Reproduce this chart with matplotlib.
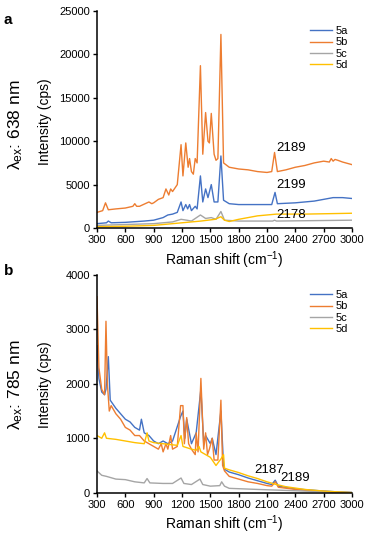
import numpy as np
import matplotlib
matplotlib.use('Agg')
import matplotlib.pyplot as plt

plt.rcParams['font.family'] = ['Liberation Sans', 'DejaVu Sans']
plt.rcParams['mathtext.fontset'] = 'custom'
plt.rcParams['mathtext.rm'] = 'Liberation Sans'
plt.rcParams['mathtext.it'] = 'Liberation Sans'

# ---- panel a (638 nm) ----
a5b_x = [300, 360, 390, 420, 500, 600, 680, 700, 720, 750, 850, 880, 900, 950, 1000, 1030, 1060, 1080, 1100, 1150,
         1190, 1210, 1240, 1265, 1280, 1300, 1320, 1340, 1360, 1395, 1420, 1450, 1475, 1490, 1510, 1540, 1560, 1580,
         1612, 1640, 1700, 1800, 1900, 2000, 2100, 2150, 2180, 2210, 2300, 2400, 2500, 2600, 2700, 2760, 2780, 2800,
         2820, 2850, 2900, 3000]
a5b_y = [1800, 2000, 2900, 2100, 2200, 2300, 2500, 2800, 2500, 2500, 3000, 2800, 2900, 3300, 3500, 4500, 3800, 4500, 4200, 5000,
         9600, 6000, 9800, 7000, 8000, 6500, 6200, 8000, 7500, 18700, 8500, 13300, 10000, 9800, 13200, 8500, 7800, 8000,
         22300, 7500, 7000, 6800, 6700, 6500, 6400, 6500, 8700, 6500, 6700, 7000, 7200, 7500, 7700, 7600, 8000, 7700,
         7900, 7800, 7600, 7300]

a5a_x = [300, 400, 420, 450, 600, 800, 900, 1000, 1050, 1100, 1150, 1190, 1210, 1240, 1260, 1280, 1300, 1340, 1360,
         1395, 1420, 1450, 1475, 1510, 1540, 1580, 1612, 1640, 1700, 1800, 2000, 2150, 2185, 2210, 2400, 2600, 2700,
         2800, 2900, 3000]
a5a_y = [500, 600, 800, 600, 650, 800, 900, 1200, 1500, 1600, 1800, 3000, 2000, 2700, 2200, 2700, 2000, 2500, 2200,
         6000, 3000, 4500, 3500, 5000, 3000, 3000, 8300, 3200, 2800, 2700, 2700, 2700, 4100, 2800, 2900, 3100, 3300,
         3500, 3500, 3400]

a5c_x = [300, 600, 900, 1100, 1190, 1250, 1300, 1395, 1450, 1510, 1560, 1612, 1650, 1800, 2000, 2160, 2180, 2200, 3000]
a5c_y = [300, 400, 500, 700, 1000, 900, 800, 1500, 1100, 1200, 1000, 1900, 900, 800, 800, 800, 900, 800, 900]

a5d_x = [300, 600, 900, 1200, 1400, 1550, 1612, 1650, 1700, 1800, 2000, 2200, 2500, 3000]
a5d_y = [150, 200, 300, 600, 800, 1000, 1300, 900, 750, 1000, 1400, 1600, 1600, 1700]

# ---- panel b (785 nm) ----
b5b_x = [300, 320, 350, 380, 395, 410, 430, 450, 500, 550, 600, 650, 700, 750, 800, 850, 900, 950, 980, 1000, 1030,
         1050, 1080, 1100, 1150, 1185, 1210, 1225, 1250, 1270, 1300, 1340, 1350, 1370, 1400, 1430, 1450, 1470, 1490,
         1520, 1540, 1580, 1612, 1630, 1650, 1700, 1800, 1900, 2000, 2100, 2150, 2189, 2220, 2400, 2600, 3000]
b5b_y = [3600, 2300, 1900, 1800, 3150, 2000, 1500, 1600, 1450, 1350, 1200, 1150, 1050, 1050, 950, 900, 850, 800, 900, 750, 900,
         800, 1050, 800, 850, 1600, 1600, 900, 1380, 900, 800, 700, 1100, 750, 2100, 800, 1100, 700, 800,
         1000, 600, 600, 1700, 500, 400, 300, 250, 200, 170, 130, 120, 200, 100, 60, 30, 0]

b5a_x = [300, 320, 350, 380, 395, 420, 440, 500, 600, 650, 700, 750, 770, 800, 850, 900, 950, 1000, 1050, 1100, 1185,
         1210, 1230, 1250, 1300, 1350, 1400, 1430, 1450, 1500, 1520, 1560, 1612, 1640, 1650, 1700, 1800, 1900, 2000,
         2100, 2150, 2187, 2220, 2400, 2700, 3000]
b5a_y = [2700, 2100, 1850, 1800, 1900, 2500, 1700, 1550, 1350, 1300, 1200, 1150, 1350, 1100, 1050, 950, 900, 950, 900, 950, 1400,
         1500, 1000, 1350, 900, 1100, 1900, 900, 1050, 900, 1000, 700, 1500, 500, 430, 380, 330, 270, 220,
         170, 150, 230, 120, 70, 30, 0]

b5c_x = [300, 350, 400, 500, 600, 700, 800, 830, 860, 1000, 1100, 1190, 1220, 1300, 1390, 1420, 1500, 1600, 1620, 1650,
         1700, 2000, 2500, 3000]
b5c_y = [400, 320, 300, 250, 240, 200, 180, 260, 180, 170, 170, 270, 170, 150, 250, 150, 120, 130, 200, 120,
         80, 60, 30, 10]

b5d_x = [300, 350, 380, 400, 500, 600, 700, 800, 830, 850, 900, 1000, 1100, 1150, 1190, 1210, 1300, 1350, 1380, 1400,
         1500, 1560, 1612, 1640, 1650, 1700, 1800, 1900, 2000, 2100, 2200, 2300, 2500, 2700, 3000]
b5d_y = [1050, 1000, 1100, 1000, 980, 950, 920, 900, 1100, 950, 920, 900, 880, 870, 1050, 850, 800, 780, 850, 750,
         650, 500, 620, 700, 450, 420, 370, 310, 260, 200, 150, 110, 60, 30, 0]

series_names = ['5a', '5b', '5c', '5d']
colors = ['#4472C4', '#ED7D31', '#A5A5A5', '#FFC000']
xticks = list(range(300, 3001, 300))

W, H = 369, 536
fig = plt.figure(figsize=(W / 100, H / 100), dpi=100)


def setup(ax, ymax, ystep):
    ax.set_xlim(300, 3000)
    ax.set_ylim(0, ymax)
    ax.set_xticks(xticks)
    ax.set_yticks(np.arange(0, ymax + 1, ystep))
    ax.tick_params(labelsize=8, length=3, width=1, pad=2)
    for s in ['top', 'right']:
        ax.spines[s].set_visible(False)
    for s in ['left', 'bottom']:
        ax.spines[s].set_linewidth(1.1)
    ax.set_xlabel('Raman shift (cm$^{-1}$)', fontsize=10, labelpad=3)
    ax.legend(loc='upper right', bbox_to_anchor=(1.0, 0.95), frameon=False, fontsize=8,
              handlelength=2.0, handletextpad=0.3, labelspacing=0.1, borderaxespad=0)


# panel a
axa = fig.add_axes([97 / W, (H - 228) / H, 255 / W, 217 / H])
for name, c, xs, ys in zip(series_names, colors,
                           [a5a_x, a5b_x, a5c_x, a5d_x], [a5a_y, a5b_y, a5c_y, a5d_y]):
    axa.plot(xs, ys, color=c, lw=1.0, label=name)
setup(axa, 25000, 5000)
axa.text(2195, 9200, '2189', fontsize=9.5, va='center')
axa.text(2195, 4950, '2199', fontsize=9.5, va='center')
axa.text(2195, 1500, '2178', fontsize=9.5, va='center')

# panel b
axb = fig.add_axes([97 / W, (H - 492.7) / H, 255 / W, 217.7 / H])
for name, c, xs, ys in zip(series_names, colors,
                           [b5a_x, b5b_x, b5c_x, b5d_x], [b5a_y, b5b_y, b5c_y, b5d_y]):
    axb.plot(xs, ys, color=c, lw=1.0, label=name)
setup(axb, 4000, 1000)
axb.text(1965, 420, '2187', fontsize=9.5, va='center')
axb.text(2240, 265, '2189', fontsize=9.5, va='center')

# y labels and panel letters
fig.text(45 / W, 1 - 122 / H, 'Intensity (cps)', rotation=90, fontsize=10, ha='center', va='center')
fig.text(45 / W, 1 - 385 / H, 'Intensity (cps)', rotation=90, fontsize=10, ha='center', va='center')
fig.text(16 / W, 1 - 125 / H, r'$\lambda_{\mathrm{ex}}$: 638 nm', rotation=90, fontsize=12.5, ha='center', va='center')
fig.text(16 / W, 1 - 385 / H, r'$\lambda_{\mathrm{ex}}$: 785 nm', rotation=90, fontsize=12.5, ha='center', va='center')
fig.text(4 / W, 1 - 20 / H, 'a', fontsize=11, fontweight='bold', ha='left', va='center')
fig.text(4 / W, 1 - 271 / H, 'b', fontsize=11, fontweight='bold', ha='left', va='center')

fig.savefig('out.png', dpi=100)
